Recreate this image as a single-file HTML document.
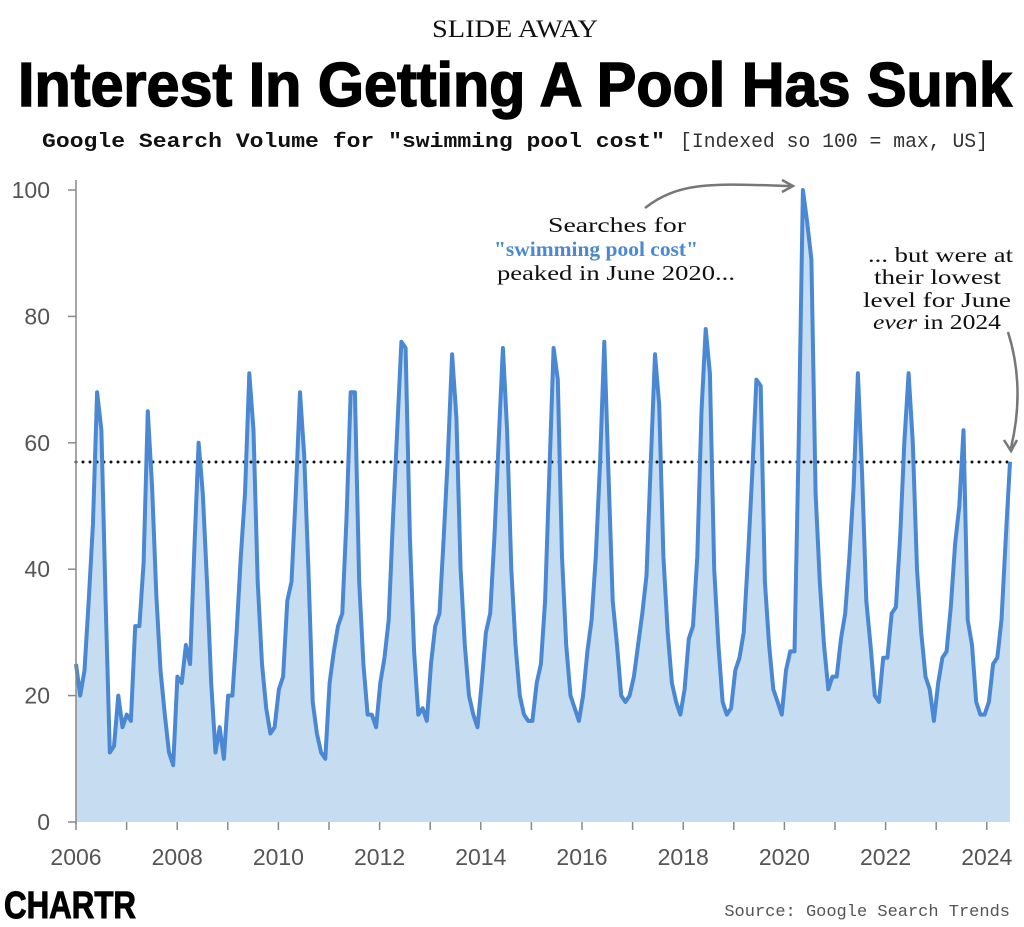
<!DOCTYPE html>
<html><head><meta charset="utf-8"><style>
html,body{margin:0;padding:0;background:#fff;}
svg{display:block;}
</style></head><body>
<svg id="s" width="1024" height="927" viewBox="0 0 1024 927" xmlns="http://www.w3.org/2000/svg">
<text x="432" y="37" textLength="166" lengthAdjust="spacingAndGlyphs" font-family="Liberation Serif, serif" font-size="25" fill="#111">SLIDE AWAY</text>
<text x="18" y="106" textLength="994" lengthAdjust="spacingAndGlyphs" font-family="Liberation Sans Narrow, Liberation Sans, sans-serif" font-weight="bold" font-size="62" fill="#000" stroke="#000" stroke-width="1.5">Interest In Getting A Pool Has Sunk</text>
<text x="42" y="147" textLength="623" lengthAdjust="spacingAndGlyphs" font-family="Liberation Mono, monospace" font-size="20" font-weight="bold" fill="#111">Google Search Volume for "swimming pool cost"</text>
<text x="680" y="147" textLength="308" lengthAdjust="spacingAndGlyphs" font-family="Liberation Mono, monospace" font-size="20" fill="#333">[Indexed so 100 = max, US]</text>
<g id="grid" font-family="Liberation Sans, sans-serif" font-size="23" fill="#555"></g>
<path id="area" fill="#c6dcf0"/>
<line x1="76" y1="462" x2="1010" y2="462" stroke="#111" stroke-width="3" stroke-dasharray="0 7" stroke-linecap="round"/>
<path id="line" fill="none" stroke="#4a88d3" stroke-width="4" stroke-linejoin="round"/>
<line x1="76" y1="180" x2="76" y2="824" stroke="#888" stroke-width="1.5"/>
<g font-family="Liberation Serif, serif" font-size="21" fill="#111">
<text x="548" y="232" textLength="138" lengthAdjust="spacingAndGlyphs">Searches for</text>
<text x="494" y="256" textLength="204" lengthAdjust="spacingAndGlyphs" font-weight="bold" fill="#4a88d3">"swimming pool cost"</text>
<text x="497" y="280" textLength="238" lengthAdjust="spacingAndGlyphs">peaked in June 2020...</text>
<text x="868" y="262" textLength="145" lengthAdjust="spacingAndGlyphs">... but were at</text>
<text x="874" y="284" textLength="127" lengthAdjust="spacingAndGlyphs">their lowest</text>
<text x="863" y="307" textLength="148" lengthAdjust="spacingAndGlyphs">level for June</text>
<text x="873" y="329" textLength="128" lengthAdjust="spacingAndGlyphs"><tspan font-style="italic">ever</tspan> in 2024</text>
</g>
<path d="M645 208 C680 180 720 184 790 186" fill="none" stroke="#777" stroke-width="2.5"/>
<path d="M782 180 L793 186 L782 192" fill="none" stroke="#777" stroke-width="2.5"/>
<path d="M1008 332 C1020 370 1020 410 1011 448" fill="none" stroke="#777" stroke-width="2.5"/>
<path d="M1004 440 L1011 451 L1017 440" fill="none" stroke="#777" stroke-width="2.5"/>
<text x="4" y="918" font-family="Liberation Sans, sans-serif" font-weight="bold" font-size="38" fill="#000" textLength="132" lengthAdjust="spacingAndGlyphs" stroke="#000" stroke-width="1">CHARTR</text>
<text x="1010" y="916" text-anchor="end" font-family="Liberation Mono, monospace" font-size="17" fill="#555">Source: Google Search Trends</text>
</svg>
<script>
var d=[25,20,24,35,47,68,62,35,11,12,20,15,
17,16,31,31,41,65,53,36,24,17,11,9,
23,22,28,25,43,60,52,38,22,11,15,10,
20,20,30,42,52,71,62,38,25,18,14,15,
21,23,35,38,52,68,58,40,19,14,11,10,
22,27,31,33,48,68,68,38,25,17,17,15,
22,26,32,48,62,76,75,45,27,17,18,16,
25,31,33,45,58,74,64,40,28,20,17,15,
22,30,33,45,60,75,62,40,28,20,17,16,
16,22,25,35,55,75,70,42,28,20,18,16,
20,27,32,42,57,76,55,35,28,20,19,20,
23,28,33,39,57,74,66,42,30,22,19,17,
21,29,31,42,65,78,71,40,28,19,17,18,
24,26,30,42,55,70,69,38,28,21,19,17,
24,27,27,60,100,95,89,52,38,28,21,23,
23,29,33,42,53,71,55,35,28,20,19,26,
26,33,34,45,60,71,60,40,30,23,21,16,
22,26,27,34,44,50,62,32,28,19,17,17,
19,25,26,32,45,57];
var X=function(i){return 76+i*934/221},Y=function(v){return 822-v*6.32};
var p=d.map(function(v,i){return (i?'L':'M')+X(i).toFixed(1)+' '+Y(v).toFixed(1)}).join(' ');
document.getElementById('line').setAttribute('d',p);
document.getElementById('area').setAttribute('d',p+' L'+X(d.length-1).toFixed(1)+' 822 L76 822 Z');
var g=document.getElementById('grid'),h='';
for(var v=0;v<=100;v+=20){var y=Y(v);h+='<line x1="68" x2="76" y1="'+y+'" y2="'+y+'" stroke="#888" stroke-width="1.5"/><text x="50" y="'+(y+8)+'" text-anchor="end">'+v+'</text>';}
for(var yr=2006;yr<=2024;yr++){var x=76+(yr-2006)*50.6;h+='<line x1="'+x+'" x2="'+x+'" y1="822" y2="830" stroke="#888" stroke-width="1.5"/>';if(yr%2==0)h+='<text x="'+x+'" y="865" text-anchor="middle">'+yr+'</text>';}
g.innerHTML=h;
</script>
</body></html>
